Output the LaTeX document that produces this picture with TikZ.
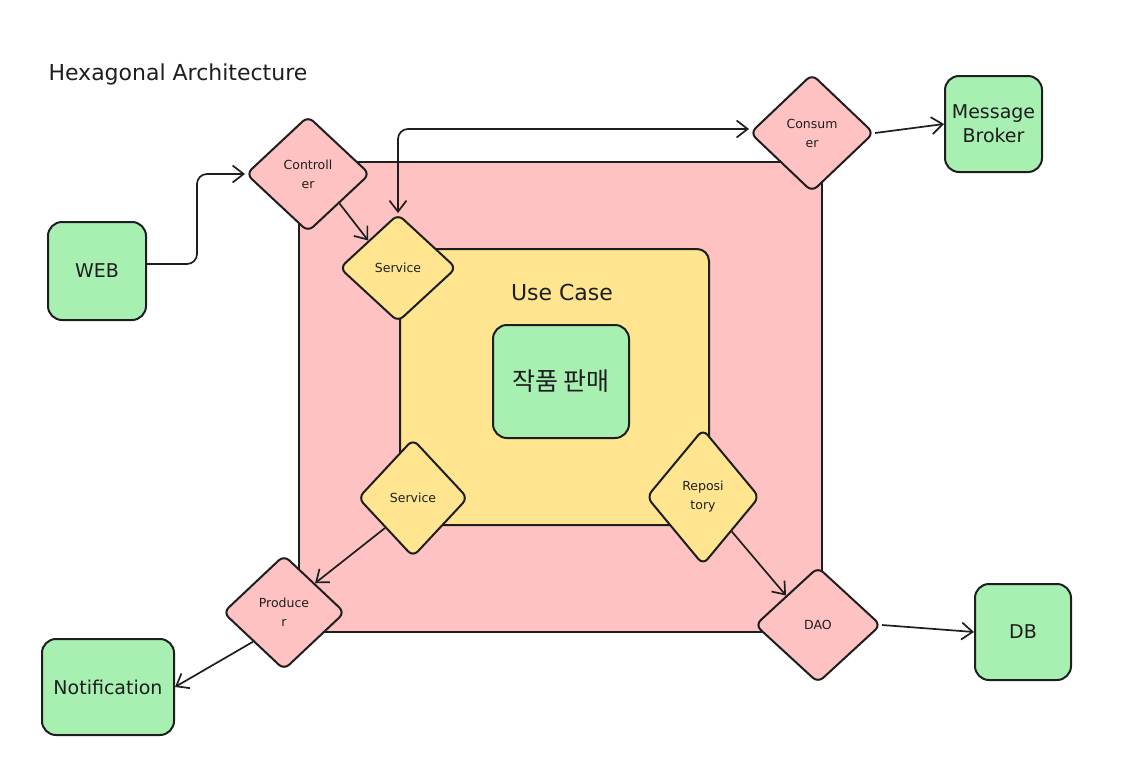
\documentclass[tikz,border=0pt]{standalone}
\usepackage{fontspec}
\setmainfont{DejaVu Sans}
\newfontfamily\krfont{Noto Sans CJK KR}
\usetikzlibrary{shapes.geometric,arrows.meta}
\definecolor{pinkc}{HTML}{FFC2C2}
\definecolor{yellowc}{HTML}{FFE58F}
\definecolor{greenc}{HTML}{A8F0B2}
\definecolor{ink}{HTML}{1E1E1E}
\begin{document}
\begin{tikzpicture}[x=1pt,y=-1pt,
  ln/.style={draw=ink, line width=2pt},
  dia/.style={diamond, ln, rounded corners=7pt, inner sep=0pt, align=center,
              font=\fontsize{12.5}{19}\selectfont, text=ink},
  gbox/.style={rectangle, ln, fill=greenc, rounded corners=14pt, align=center,
               inner sep=0pt, font=\fontsize{19}{24}\selectfont, text=ink},
  arr/.style={draw=ink, line width=1.7pt, -{Straight Barb[length=11pt,width=17pt]}},
  darr/.style={draw=ink, line width=1.7pt, {Straight Barb[length=11pt,width=17pt]}-{Straight Barb[length=11pt,width=17pt]}}
]
\useasboundingbox (0,0) rectangle (1136,756);

\node[anchor=west, text=ink, font=\fontsize{22}{26}\selectfont] (title) at (45,74) {Hexagonal Architecture};

% layers
\node[rectangle, ln, fill=pinkc, minimum width=523pt, minimum height=470pt, inner sep=0pt] (hexa) at (560.5,397) {};
\node[rectangle, ln, fill=yellowc, rounded corners=12pt, minimum width=309pt, minimum height=276pt, inner sep=0pt] (usecase) at (554.5,387) {};
\node[text=ink, font=\fontsize{22}{26}\selectfont] (uclabel) at (562,292) {Use Case};
\node[gbox, minimum width=136pt, minimum height=113pt] (core) at (561,381.5) {\krfont\fontsize{25}{30}\selectfont 작품 판매};

% outer systems
\node[gbox, minimum width=98pt, minimum height=98pt] (web) at (97,271) {WEB};
\node[gbox, minimum width=97pt, minimum height=96pt] (mb) at (993.5,124) {Message\\Broker};
\node[gbox, minimum width=132pt, minimum height=96pt] (notif) at (108,687) {Notification};
\node[gbox, minimum width=96pt, minimum height=96pt] (db) at (1023,632) {DB};

% adapters / ports
\node[dia, fill=pinkc, minimum width=124pt, minimum height=116pt] (ctrl) at (308,174) {Controll\\er};
\node[dia, fill=yellowc, minimum width=117pt, minimum height=108pt] (svc1) at (398,268) {Service};
\node[dia, fill=yellowc, minimum width=110pt, minimum height=118pt] (svc2) at (413,498) {Service};
\node[dia, fill=yellowc, minimum width=113pt, minimum height=136pt] (repo) at (703,497) {Reposi\\tory};
\node[dia, fill=pinkc, minimum width=122pt, minimum height=115pt] (prod) at (284,612.5) {Produce\\r};
\node[dia, fill=pinkc, minimum width=126pt, minimum height=116pt] (dao) at (818,625) {DAO};
\node[dia, fill=pinkc, minimum width=124pt, minimum height=118pt] (cons) at (812,133) {Consum\\er};

% connectors
\draw[arr, rounded corners=10pt] ([yshift=7pt]web.east) -- ++(50,0) |- (ctrl.west);
\draw[arr] (ctrl.south east) -- (svc1.north west);
\draw[darr, rounded corners=10pt] (svc1.north) |- ([yshift=4pt]cons.west);
\draw[arr] (cons.east) -- (mb.west);
\draw[arr] (svc2.south west) -- (prod.north east);
\draw[arr] (prod.south west) -- (notif.east);
\draw[arr] (repo.south east) -- (dao.north west);
\draw[arr] (dao.east) -- (db.west);
\end{tikzpicture}
\end{document}
